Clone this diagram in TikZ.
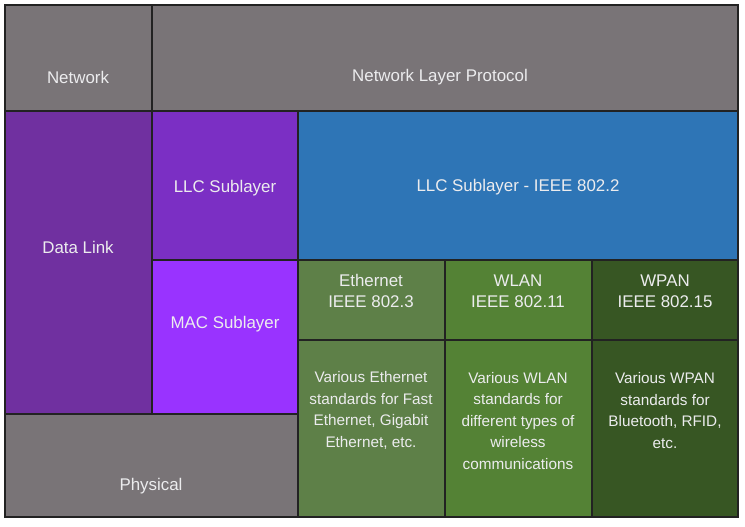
\documentclass[tikz,border=0pt]{standalone}
\usepackage{fontspec}
\setmainfont{Liberation Sans}
\usetikzlibrary{calc}
\definecolor{mygray}{RGB}{121,116,119}
\definecolor{mydatalink}{RGB}{112,48,160}
\definecolor{myllc}{RGB}{123,47,196}
\definecolor{mymac}{RGB}{153,51,255}
\definecolor{myblue}{RGB}{46,117,182}
\definecolor{myeth}{RGB}{94,128,72}
\definecolor{mywlan}{RGB}{84,130,53}
\definecolor{mywpan}{RGB}{55,86,35}
\definecolor{mytext}{RGB}{236,236,238}
\definecolor{myline}{RGB}{34,34,34}

\begin{document}
\begin{tikzpicture}[x=1pt,y=-1pt,
  cell/.style={draw=myline,line width=1.3pt},
  lbl/.style={text=mytext,font=\fontsize{16.9}{21}\selectfont,align=center,inner sep=0pt},
  desc/.style={lbl,font=\fontsize{15.3}{21.5}\selectfont}]

\useasboundingbox (0,0) rectangle (745,527);

% network layer
\draw[cell,fill=mygray] (5,5) rectangle (152,111);
\draw[cell,fill=mygray] (152,5) rectangle (738,111);
\node[lbl] (network) at (78,77) {Network};
\node[lbl] (netproto) at (440,77) {Network Layer Protocol};

% data link layer and its sublayers
\draw[cell,fill=mydatalink] (5,111) rectangle (152,414);
\draw[cell,fill=myllc] (152,111) rectangle (298,260);
\draw[cell,fill=mymac] (152,260) rectangle (298,414);
\draw[cell,fill=myblue] (298,111) rectangle (738,260);
\node[lbl] (datalink) at (78,247) {Data Link};
\node[lbl] (llc) at (225,188) {LLC Sublayer};
\node[lbl] (mac) at (225,324) {MAC Sublayer};
\node[lbl] (llcieee) at (518,187) {LLC Sublayer - IEEE 802.2};

% mac standards
\foreach \xa/\xb/\col in {298/445/myeth,445/592/mywlan,592/738/mywpan}{
  \draw[cell,fill=\col] (\xa,260) rectangle (\xb,340);
  \draw[cell,fill=\col] (\xa,340) rectangle (\xb,517);
}
\node[lbl] (eth) at (371,291) {Ethernet\\IEEE 802.3};
\node[lbl] (wlan) at (518,291) {WLAN\\IEEE 802.11};
\node[lbl] (wpan) at (665,291) {WPAN\\IEEE 802.15};
\node[desc] (ethtext) at (371,410.5) {Various Ethernet\\standards for Fast\\Ethernet, Gigabit\\Ethernet, etc.};
\node[desc] (wlantext) at (518,421) {Various WLAN\\standards for\\different types of\\wireless\\communications};
\node[desc] (wpantext) at (665,410.5) {Various WPAN\\standards for\\Bluetooth, RFID,\\etc.};

% physical layer
\draw[cell,fill=mygray] (5,414) rectangle (298,517);
\node[lbl] (physical) at (151,486) {Physical};

\end{tikzpicture}
\end{document}
